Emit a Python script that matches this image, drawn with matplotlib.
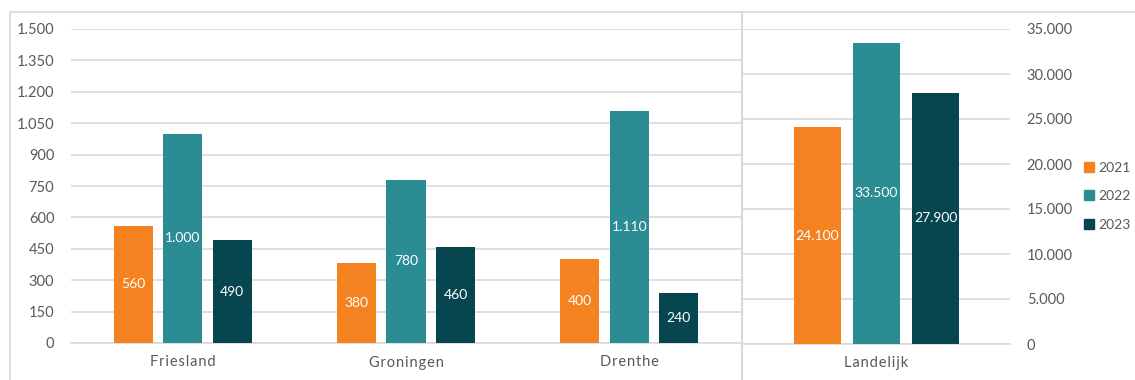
import matplotlib.pyplot as plt
from matplotlib.lines import Line2D
from matplotlib.patches import Rectangle
from matplotlib.ticker import FuncFormatter, MultipleLocator

plt.rcParams["font.family"] = ["Lato", "DejaVu Sans"]

# regio's (linker as) en landelijk totaal (rechter as)
regions = ["Friesland", "Groningen", "Drenthe"]
years = ["2021", "2022", "2023"]
region_2021 = [560, 380, 400]
region_2022 = [1000, 780, 1110]
region_2023 = [490, 460, 240]
national_label = "Landelijk"
national_values = [24100, 33500, 27900]

colors = ["#F58220", "#2B8C94", "#07464F"]
grid_c = "#D9D9D9"
text_c = "#595959"


def nl_fmt(v, pos=None):
    return f"{v:,.0f}".replace(",", ".")


def spaced(s):
    # wat extra letterafstand voor de categorienamen
    return "\u200a".join(s)


fig = plt.figure(figsize=(11.35, 3.8), dpi=100)

# rand om de hele grafiek
fig.patches.append(Rectangle((10 / 1135, -0.1), 1.2, (380 - 12) / 380 + 0.1,
                             transform=fig.transFigure, fill=False,
                             edgecolor=grid_c, linewidth=1.2))
fig.lines.append(Line2D([741.5 / 1135] * 2, [0, (380 - 12) / 380],
                        transform=fig.transFigure, color=grid_c, linewidth=1.5))

ax1 = fig.add_axes([71 / 1135, 37 / 380, 670 / 1135, 314 / 380])
ax2 = fig.add_axes([743 / 1135, 36 / 380, 267 / 1135, 315 / 380])

width = 0.175
step = 0.222
series = [region_2021, region_2022, region_2023]
x = range(len(regions))

for i, vals in enumerate(series):
    xs = [p + (i - 1) * step for p in x]
    bars = ax1.bar(xs, vals, width, color=colors[i], label=years[i], zorder=3)
    for b, v in zip(bars, vals):
        ax1.text(b.get_x() + b.get_width() / 2, v / 2, nl_fmt(v), color="white",
                 ha="center", va="center", fontsize=10, zorder=4)

for i, v in enumerate(national_values):
    ax2.bar((i - 1) * step, v, width, color=colors[i], zorder=3)
    ax2.text((i - 1) * step, v / 2, nl_fmt(v), color="white",
             ha="center", va="center", fontsize=10, zorder=4)

ax1.set_xlim(-0.5, len(regions) - 0.5)
ax1.set_ylim(0, 1500)
ax1.yaxis.set_major_locator(MultipleLocator(150))
ax1.set_xticks(list(x))
ax1.set_xticklabels([spaced(r) for r in regions])

ax2.set_xlim(-0.5, 0.5)
ax2.set_ylim(0, 35000)
ax2.yaxis.set_major_locator(MultipleLocator(5000))
ax2.set_xticks([0])
ax2.set_xticklabels([spaced(national_label)])
ax2.yaxis.tick_right()

for ax in (ax1, ax2):
    ax.yaxis.set_major_formatter(FuncFormatter(nl_fmt))
    ax.grid(axis="y", color=grid_c, linewidth=1.2, zorder=0)
    for s in ("top", "right", "left"):
        ax.spines[s].set_visible(False)
    ax.spines["bottom"].set_color(grid_c)
    ax.spines["bottom"].set_linewidth(1.2)
    ax.tick_params(axis="both", length=0, colors=text_c, labelsize=10.5)
    ax.tick_params(axis="y", pad=12)
    ax.tick_params(axis="x", pad=9)
    ax.set_facecolor("none")

handles = [Rectangle((0, 0), 1, 1, color=c) for c in colors]
fig.legend(handles, years, loc="upper left", bbox_to_anchor=(1071 / 1135, 1 - 149 / 380),
           frameon=False, fontsize=10, handlelength=0.75, handleheight=0.75,
           handletextpad=0.3, labelspacing=1.2, labelcolor=text_c)

fig.savefig("out.png", dpi=100)
